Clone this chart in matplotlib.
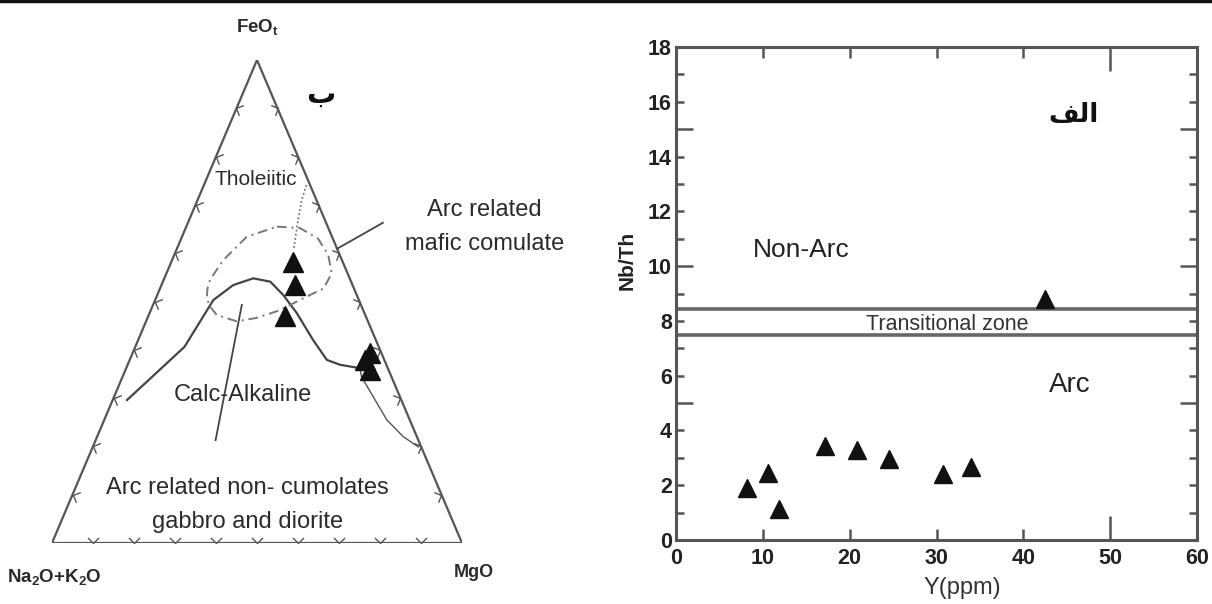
import matplotlib
matplotlib.use('Agg')
import matplotlib.pyplot as plt
from matplotlib.path import Path
from matplotlib.markers import MarkerStyle
from matplotlib.transforms import Affine2D
from matplotlib.lines import Line2D
import numpy as np

plt.rcParams['font.family'] = ['Liberation Sans', 'DejaVu Sans']

# ---- AFM ternary data (FeOt and MgO in %, alkalis = rest) ----
sample_fe = [58.2, 53.4, 46.9, 39.3, 37.9, 35.8]
sample_mg = [29.8, 32.6, 33.4, 58.0, 57.4, 59.7]

# tholeiitic / calc-alkaline boundary
calc_fe = [29.6, 40.6, 50.3, 53.4, 54.8, 54.1, 51.3, 47.6, 42.0, 37.9, 36.9, 36.2]
calc_mg = [3.5, 12.0, 14.2, 17.5, 21.7, 26.2, 30.8, 35.9, 42.7, 48.1, 51.8, 57.0]
# tail toward MgO side
tail_fe = [36.2, 34.4, 25.5, 22.0, 19.9]
tail_mg = [57.0, 58.3, 68.9, 74.7, 79.4]
# dotted line up to the tholeiitic field
thol_fe = [74.1, 71.0, 65.5, 60.7]
thol_mg = [25.0, 25.4, 27.0, 28.6]
# arc related mafic cumulate field
cum_fe = [65.5, 65.2, 63.0, 59.6, 55.8, 52.7, 50.7, 48.2, 46.6, 45.9, 47.2, 49.0, 50.7, 52.6, 54.5, 58.6, 63.4, 65.5]
cum_mg = [22.1, 27.9, 33.4, 37.6, 40.3, 39.9, 36.0, 31.5, 26.6, 22.1, 16.6, 14.0, 12.4, 11.6, 11.3, 12.5, 15.8, 22.1]

# ---- Nb/Th vs Y data ----
y_ppm = [8.2, 10.6, 11.9, 17.2, 20.9, 24.5, 30.7, 34.0, 42.5]
nb_th = [1.9, 2.45, 1.15, 3.45, 3.3, 2.95, 2.4, 2.65, 8.8]
trans_lo = 7.5
trans_hi = 8.45


def tern(fe, mg):
    fe = np.asarray(fe, dtype=float)
    mg = np.asarray(mg, dtype=float)
    return mg + fe / 2.0, fe


fig = plt.figure(figsize=(12.12, 6.04), dpi=100)
fig.add_artist(Line2D([0, 1], [0.998, 0.998], transform=fig.transFigure, color='#111', lw=2.5))

edge = '#555555'
txt = '#2b2b2b'

# ================= left: AFM =================
ax = fig.add_axes([52 / 1212, 61 / 604, 410 / 1212, 483 / 604])
ax.set_xlim(0, 100)
ax.set_ylim(0, 100)
ax.axis('off')

ax.plot([0, 100, 50, 0], [0, 0, 100, 0], color=edge, lw=1.6, solid_joinstyle='miter')

# small chevron ticks every 10 %
vee = Path([(-1, 1), (0, 0), (1, 1)], [Path.MOVETO, Path.LINETO, Path.LINETO])
fig.canvas.draw()
p0 = ax.transData.transform((0, 0))
p1 = ax.transData.transform((100, 0))
p2 = ax.transData.transform((50, 100))
sides = [(p0, p1, (0, 0), (100, 0)), (p1, p2, (100, 0), (50, 100)), (p2, p0, (50, 100), (0, 0))]
for a, b, da, db in sides:
    d = b - a
    nrm = np.degrees(np.arctan2(d[0], -d[1]))  # inward normal
    ms = MarkerStyle(vee, transform=Affine2D().rotate_deg(nrm - 90))
    f = np.arange(1, 10) / 10.0
    xs = da[0] + (db[0] - da[0]) * f
    ys = da[1] + (db[1] - da[1]) * f
    ax.plot(xs, ys, ls='none', marker=ms, ms=8, mfc='none', mec=edge, mew=1.0)

x, y = tern(calc_fe, calc_mg)
ax.plot(x, y, color='#444', lw=1.6)
x, y = tern(tail_fe, tail_mg)
ax.plot(x, y, color='#555', lw=1.0)
x, y = tern(thol_fe, thol_mg)
ax.plot(x, y, color='#666', lw=1.2, ls=(0, (1, 1.5)))
x, y = tern(cum_fe, cum_mg)
ax.plot(x, y, color='#777', lw=1.4, ls=(0, (5, 2.5, 1, 2.5)))

# pointers
ax.plot([80.7, 69.5], [66.3, 60.9], color='#444', lw=1.3, clip_on=False)
ax.plot([46.3, 39.9], [49.3, 21.3], color='#444', lw=1.3)

x, y = tern(sample_fe, sample_mg)
ax.plot(x, y, ls='none', marker='^', ms=15, color='#111', zorder=5)

ax.text(50, 106.8, r'$\mathregular{FeO_t}$', ha='center', va='center', fontsize=13.5, fontweight='bold', color=txt)
ax.text(0.5, -7.0, r'$\mathregular{Na_2O{+}K_2O}$', ha='center', va='center', fontsize=13.5, fontweight='bold', color=txt)
ax.text(102.9, -6.2, 'MgO', ha='center', va='center', fontsize=13, fontweight='bold', color=txt)
ax.text(65.5, 92.8, 'ب', ha='center', va='center', fontsize=21, fontweight='bold', color='#111',
        family=['DejaVu Sans'])
ax.text(49.6, 75.2, 'Tholeiitic', ha='center', va='center', fontsize=15, color=txt)
ax.text(105.5, 65.5, 'Arc related\nmafic comulate', ha='center', va='center', fontsize=17, color=txt,
        linespacing=1.7)
ax.text(46.5, 30.6, 'Calc-Alkaline', ha='center', va='center', fontsize=17, color=txt)
ax.text(47.7, 7.9, 'Arc related non- cumolates\ngabbro and diorite', ha='center', va='center', fontsize=17,
        color=txt, linespacing=1.7)

# ================= right: Nb/Th vs Y =================
bx = fig.add_axes([676 / 1212, 64 / 604, 521 / 1212, 493 / 604])
bx.set_xlim(0, 60)
bx.set_ylim(0, 18)
for s in bx.spines.values():
    s.set_linewidth(2.2)
    s.set_color('#555')

bx.axhline(trans_hi, color='#666', lw=2.6)
bx.axhline(trans_lo, color='#666', lw=2.6)
bx.plot(y_ppm, nb_th, ls='none', marker='^', ms=13, color='#111', zorder=5, clip_on=False)

yt = list(range(0, 19))
bx.set_yticks(yt)
bx.set_yticklabels([str(v) if v % 2 == 0 else '' for v in yt])
bx.set_xticks(range(0, 61, 10))
bx.tick_params(direction='in', top=True, right=True, width=1.8, color='#555',
               labelsize=15.5, labelcolor='#222')
bx.tick_params(axis='x', pad=6)
bx.tick_params(axis='y', pad=3)
for v, t in zip(yt, bx.yaxis.get_major_ticks()):
    L = 12 if v % 5 == 0 else 6
    t.tick1line.set_markersize(L)
    t.tick2line.set_markersize(L)
for v, t in zip(range(0, 61, 10), bx.xaxis.get_major_ticks()):
    L = 17 if v == 50 else 8
    t.tick1line.set_markersize(L)
    t.tick2line.set_markersize(L)
for lab in bx.get_xticklabels() + bx.get_yticklabels():
    lab.set_fontweight('bold')

bx.set_ylabel('Nb/Th', fontsize=15, fontweight='bold', color='#222')
bx.yaxis.set_label_coords(-0.075, 0.568)
bx.set_xlabel('Y(ppm)', fontsize=17, color='#333')
bx.xaxis.set_label_coords(0.55, -0.075)

bx.text(14.4, 10.6, 'Non-Arc', ha='center', va='center', fontsize=19, color='#222')
bx.text(45.4, 5.66, 'Arc', ha='center', va='center', fontsize=20, color='#222')
bx.text(31.2, 7.87, 'Transitional zone', ha='center', va='center', fontsize=15.5, color='#333')
bx.text(45.8, 15.5, '\ufed2\ufedf\ufe8d', ha='center', va='center', fontsize=19, fontweight='bold',
        color='#111', family=['DejaVu Sans'])

fig.savefig('out.png', dpi=100)
